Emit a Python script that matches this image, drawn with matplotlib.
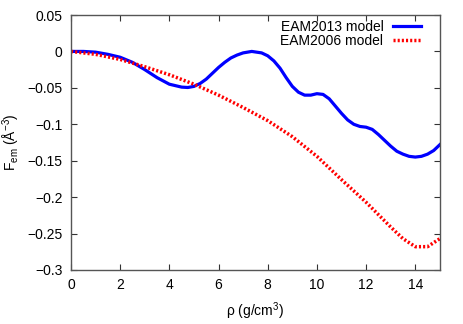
import numpy as np
import matplotlib
matplotlib.use('Agg')
import matplotlib.pyplot as plt
from matplotlib.ticker import FuncFormatter, MultipleLocator

plt.rcParams['font.family'] = ['Liberation Sans', 'DejaVu Sans']
plt.rcParams['mathtext.default'] = 'regular'
plt.rcParams['font.size'] = 10

# EAM2013 model
rho_2013 = [0, 0.5, 1.0, 1.5, 2.0, 2.5, 3.0, 3.5, 4.0, 4.5, 4.75, 5.0, 5.25, 5.5,
            5.75, 6.0, 6.25, 6.5, 6.75, 7.0, 7.35, 7.75, 8.0, 8.25, 8.5, 8.75,
            9.0, 9.25, 9.5, 9.75, 10.0, 10.25, 10.5, 10.75, 11.0, 11.25, 11.5,
            11.75, 12.0, 12.25, 12.5, 12.75, 13.0, 13.25, 13.5, 13.75, 14.0,
            14.25, 14.5, 14.75, 15.0]
f_2013 = [0, 0.0, -0.001, -0.004, -0.008, -0.015, -0.025, -0.036, -0.045, -0.049,
          -0.0495, -0.048, -0.044, -0.038, -0.030, -0.022, -0.015, -0.009, -0.005,
          -0.002, 0.0, -0.002, -0.006, -0.013, -0.023, -0.036, -0.048, -0.056,
          -0.060, -0.060, -0.058, -0.059, -0.065, -0.075, -0.085, -0.094, -0.100,
          -0.103, -0.104, -0.107, -0.114, -0.122, -0.130, -0.137, -0.141, -0.144,
          -0.145, -0.144, -0.141, -0.136, -0.128]

# EAM2006 model
rho_2006 = [0, 1, 2, 3, 4, 5, 6, 7, 8, 9, 10, 11, 12, 12.5, 13, 13.5, 14, 14.5, 15]
f_2006 = [0, -0.004, -0.011, -0.021, -0.032, -0.045, -0.060, -0.077, -0.095,
          -0.117, -0.144, -0.176, -0.207, -0.224, -0.241, -0.257, -0.268, -0.268,
          -0.257]

fig = plt.figure(figsize=(4.63, 3.24), dpi=100)
ax = fig.add_axes([0.1534, 0.1667, 0.7966, 0.787])

ax.plot(rho_2013, f_2013, color='#0000ff', lw=2.3, label='EAM2013 model')
ax.plot(rho_2006, f_2006, color='#ff0000', lw=2.5, linestyle=(0, (0.6, 0.6)),
        label='EAM2006 model')

ax.set_xlim(0, 15)
ax.set_ylim(-0.3, 0.05)
ax.xaxis.set_major_locator(MultipleLocator(2))
ax.yaxis.set_major_locator(MultipleLocator(0.05))
ax.yaxis.set_major_formatter(FuncFormatter(lambda v, p: ('%g' % round(v, 3)).replace('-', '\u2212')))
ax.tick_params(direction='in', top=True, right=True, length=4, width=0.8,
               color='#333333', pad=6)
for s in ax.spines.values():
    s.set_color('#555555')
    s.set_linewidth(1.0)

ax.set_xlabel('\u03c1 (g/cm$^{3}$)', labelpad=6)
ax.set_ylabel('F$_{em}$ (\u00c5$^{-3}$)')

ax.legend(loc='upper right', bbox_to_anchor=(0.962, 1.0), frameon=False,
          markerfirst=False, handlelength=2.0, borderaxespad=0,
          labelspacing=0.0, handletextpad=0.7, borderpad=0.35)

fig.savefig('out.png', dpi=100)
